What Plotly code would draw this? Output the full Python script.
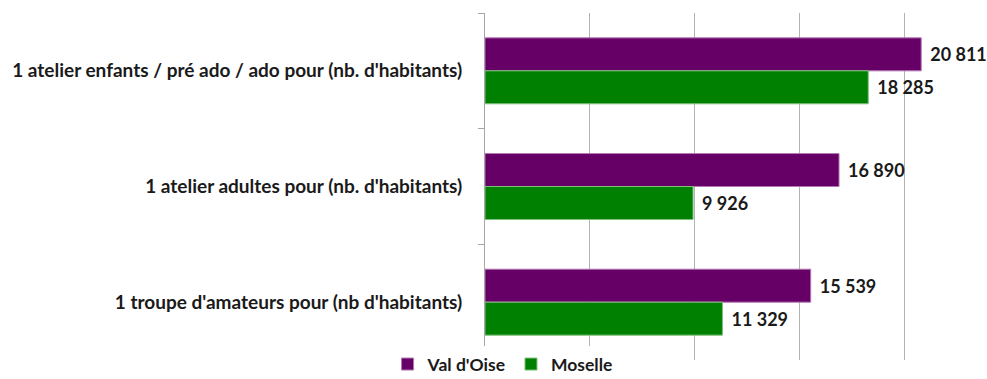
import plotly.graph_objects as go

# Number of inhabitants per structure, by département
categories = [
    "1 atelier enfants / pré ado / ado pour (nb. d'habitants)",
    "1 atelier adultes pour (nb. d'habitants)",
    "1 troupe d'amateurs pour (nb d'habitants)",
]
val_d_oise = [20811, 16890, 15539]
moselle = [18285, 9926, 11329]

series = [
    ("Val d'Oise", val_d_oise, "#660066", "#b377b3"),
    ("Moselle", moselle, "#008000", "#7fc07f"),
]


def fmt(v):
    # thousands separated by a space, small lead-in space before the value
    return "\u2004" + f"{v:,}".replace(",", " ")


FONT = "Lato"

fig = go.Figure()
for name, values, color, edge in series:
    fig.add_trace(go.Bar(
        name=name,
        y=categories,
        x=values,
        orientation="h",
        marker=dict(color=color, line=dict(color=edge, width=1)),
        text=[fmt(v) for v in values],
        textposition="outside",
        textfont=dict(family=FONT, size=18, color="#1a1a1a", weight="bold"),
        constraintext="none",
        cliponaxis=False,
    ))

fig.update_layout(
    width=987,
    height=379,
    margin=dict(l=485, r=0, t=13, b=19, autoexpand=False),
    paper_bgcolor="white",
    plot_bgcolor="white",
    barmode="group",
    bargap=0.43,
    bargroupgap=0,
    font=dict(family=FONT, size=19, color="#1a1a1a", weight="bold"),
    showlegend=True,
    legend=dict(
        orientation="h",
        x=0.035,
        xanchor="center",
        y=-0.012,
        yanchor="middle",
        font=dict(family=FONT, size=17.5, color="#1a1a1a", weight="bold"),
        itemwidth=30,
        tracegroupgap=0,
    ),
    xaxis=dict(
        range=[0, 23950],
        tick0=0,
        dtick=5000,
        showticklabels=False,
        showgrid=True,
        gridcolor="#b3b3b3",
        gridwidth=1,
        zeroline=False,
        showline=False,
        ticks="",
    ),
    yaxis=dict(
        autorange="reversed",
        type="category",
        showline=True,
        linecolor="#a6a6a6",
        linewidth=1,
        ticks="outside",
        tickson="boundaries",
        ticklen=6,
        tickcolor="#a6a6a6",
        ticklabelstandoff=18,
        showgrid=False,
        zeroline=False,
        tickfont=dict(family=FONT, size=19, color="#1a1a1a", weight="bold"),
    ),
)

fig.write_html("out.html")
